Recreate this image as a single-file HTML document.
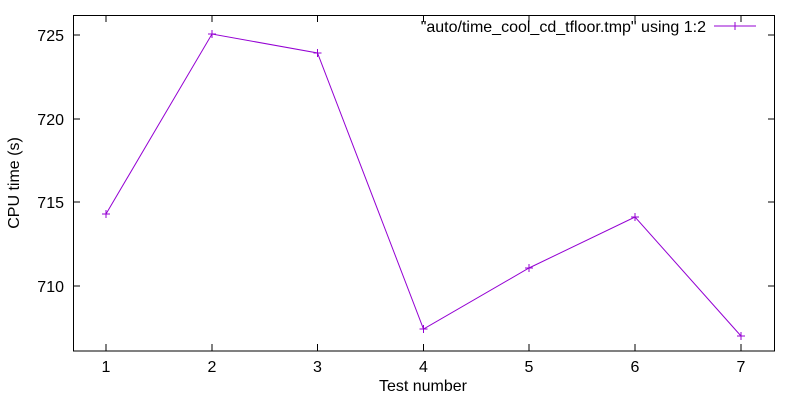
<!DOCTYPE html><html><head><style>body{margin:0;background:#fff}svg{display:block}text{font-family:"Liberation Sans",sans-serif;font-size:16px;fill:#000}</style></head><body>
<svg width="800" height="400" viewBox="0 0 800 400">
<rect x="73.5" y="15.5" width="701" height="335.5" fill="none" stroke="#000" stroke-width="1"/>
<g stroke="#000">
<line x1="73.5" y1="35" x2="80" y2="35"/><line x1="774.5" y1="35" x2="768" y2="35"/>
<line x1="73.5" y1="119" x2="80" y2="119"/><line x1="774.5" y1="119" x2="768" y2="119"/>
<line x1="73.5" y1="202" x2="80" y2="202"/><line x1="774.5" y1="202" x2="768" y2="202"/>
<line x1="73.5" y1="286" x2="80" y2="286"/><line x1="774.5" y1="286" x2="768" y2="286"/>
<line x1="106" y1="351" x2="106" y2="344"/><line x1="106" y1="15.5" x2="106" y2="22"/>
<line x1="212" y1="351" x2="212" y2="344"/><line x1="212" y1="15.5" x2="212" y2="22"/>
<line x1="317.5" y1="351" x2="317.5" y2="344"/><line x1="317.5" y1="15.5" x2="317.5" y2="22"/>
<line x1="423.5" y1="351" x2="423.5" y2="344"/><line x1="423.5" y1="15.5" x2="423.5" y2="22"/>
<line x1="529" y1="351" x2="529" y2="344"/><line x1="529" y1="15.5" x2="529" y2="22"/>
<line x1="635" y1="351" x2="635" y2="344"/><line x1="635" y1="15.5" x2="635" y2="22"/>
<line x1="741" y1="351" x2="741" y2="344"/><line x1="741" y1="15.5" x2="741" y2="22"/>
</g>
<g text-anchor="end"><text x="64" y="41">725</text><text x="64" y="125">720</text><text x="64" y="208">715</text><text x="64" y="292">710</text></g>
<g text-anchor="middle"><text x="106" y="372">1</text><text x="212" y="372">2</text><text x="317.5" y="372">3</text><text x="423.5" y="372">4</text><text x="529" y="372">5</text><text x="635" y="372">6</text><text x="741" y="372">7</text>
<text x="423" y="391">Test number</text>
<text transform="translate(19,183) rotate(-90)">CPU time (s)</text></g>
<text x="706" y="32" text-anchor="end">"auto/time_cool_cd_tfloor.tmp" using 1:2</text>
<line x1="714" y1="26" x2="756" y2="26" stroke="#9400d3"/>
<polyline fill="none" stroke="#9400d3" points="106,214 212,34 317.5,53 423.5,329 529,268 635,217 741,336"/>
<g stroke="#9400d3"><path d="M102,214h8M106,210v8M208,34h8M212,30v8M313.5,53h8M317.5,49v8M419.5,329h8M423.5,325v8M525,268h8M529,264v8M631,217h8M635,213v8M737,336h8M741,332v8M731,26h8M735,22v8"/></g>
</svg></body></html>
